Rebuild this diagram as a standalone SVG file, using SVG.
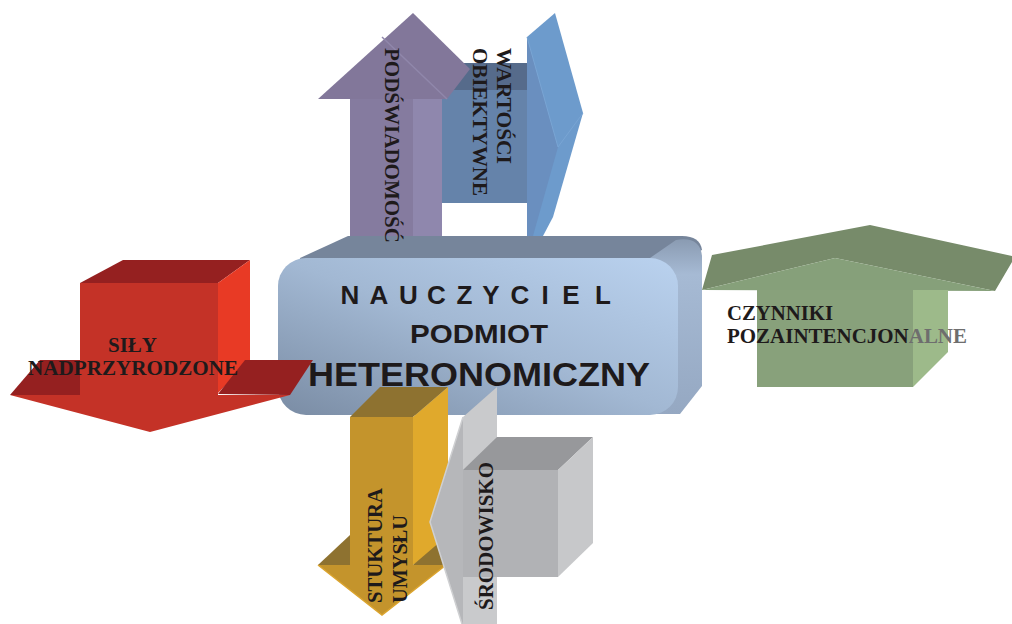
<svg xmlns="http://www.w3.org/2000/svg" width="1012" height="624" viewBox="0 0 1012 624">
<defs>
<style>
.lbl{font-family:"Liberation Serif","Times New Roman",serif;font-weight:bold;font-size:21px;fill:#1e1a1b}
.ctr{font-family:"Liberation Sans",Arial,sans-serif;font-weight:bold;fill:#1e1a1b;text-anchor:middle}
</style>
<linearGradient id="boxFront" x1="0" y1="1" x2="1" y2="0">
<stop offset="0" stop-color="#7a8ca4"/>
<stop offset="0.5" stop-color="#a2b8d3"/>
<stop offset="1" stop-color="#bad2ef"/>
</linearGradient>
<linearGradient id="boxSide" x1="0" y1="0" x2="0" y2="1">
<stop offset="0" stop-color="#8a9bb2"/>
<stop offset="0.2" stop-color="#a6bad4"/>
<stop offset="1" stop-color="#95a8c2"/>
</linearGradient>
</defs>
<rect width="1012" height="624" fill="#ffffff"/>
<g id="connectors"/>

<g id="node-wartosci">
<rect x="442" y="63" width="86" height="140" fill="#6583aa"/>
<rect x="442" y="63" width="86" height="27" fill="#566b8b"/>
<polygon points="527,37 555,13 583,113 553,217 543,236 527,236" fill="#6d9bcc"/>
<polygon points="527,37 558,147 533,236 527,236" fill="#6a8fbf"/>
<polyline points="527,37 558,147 583,113" fill="none" stroke="#79a5d4" stroke-width="1"/>
</g>

<g id="node-podswiadomosc">
<rect x="350" y="98" width="63" height="142" fill="#857b9f"/>
<rect x="413" y="98" width="29" height="142" fill="#8f87ad"/>
<polygon points="318,99 413,13 470,69 447,99" fill="#82779a"/>
<line x1="382" y1="37" x2="447" y2="99" stroke="#9087ab" stroke-width="1.5"/>
</g>

<g id="node-czynniki">
<polygon points="702,290 712,255 870,225 1012,256 1012,262 995,291 835,258" fill="#778b6a"/>
<polygon points="702,290 835,258 995,291" fill="#86a07a"/>
<rect x="757" y="290" width="156" height="97" fill="#88a17b"/>
<polygon points="913,290 948,290 948,352 913,387" fill="#9dba8a"/>
</g>

<g id="node-nauczyciel">
<path d="M300,258 L348,236 L682,236 Q700,236 702,250 L678,262 L300,262 Z" fill="#76859b"/>
<path d="M650,258 L676,240 Q700,236 702,256 L702,386 L680,414 L650,414 Z" fill="url(#boxSide)"/>
<rect x="278" y="258" width="400" height="157" rx="28" ry="28" fill="url(#boxFront)"/>
</g>

<g id="node-sily">
<polygon points="80,283 123,260 250,260 218,283" fill="#952020"/>
<polygon points="218,283 250,260 250,360 218,393" fill="#e83a25"/>
<polygon points="10,395 40,360 80,360 80,395" fill="#952020"/>
<polygon points="218,394 245,360 313,360 290,395" fill="#952020"/>
<polygon points="80,283 218,283 218,395 290,395 150,432 10,395 80,395" fill="#c43227"/>
</g>

<g id="node-struktura">
<polygon points="350,417 380,387 448,387 413,417" fill="#8e7230"/>
<polygon points="413,417 448,387 448,543 413,565" fill="#e0a92c"/>
<polygon points="318,565 350,535 350,565" fill="#8e7230"/>
<polygon points="413,565 448,535 478,535 446,565" fill="#8e7230"/>
<polygon points="350,417 413,417 413,565 446,565 382,615 318,565 350,565" fill="#c4942c"/>
<polyline points="318,565 382,615 446,565" fill="none" stroke="#dba42e" stroke-width="1.5"/>
</g>

<g id="node-srodowisko">
<polygon points="463,417 497,387 497,624 462,624" fill="#c9cacc"/>
<polygon points="463,417 430,522 462,624 463,624" fill="#b6b7ba"/>
<polyline points="463,417 430,522 462,624" fill="none" stroke="#cfd0d2" stroke-width="1.5"/>
<rect x="463" y="470" width="95" height="107" fill="#b1b2b5"/>
<polygon points="463,470 497,437 593,437 558,470" fill="#97989b"/>
<polygon points="558,470 593,437 593,543 558,577" fill="#c7c8ca"/>
</g>

<g id="labels">
<text class="ctr" font-size="26" x="350" y="304">N</text>
<text class="ctr" font-size="26" x="379" y="304">A</text>
<text class="ctr" font-size="26" x="408.5" y="304">U</text>
<text class="ctr" font-size="26" x="436.5" y="304">C</text>
<text class="ctr" font-size="26" x="464.5" y="304">Z</text>
<text class="ctr" font-size="26" x="491" y="304">Y</text>
<text class="ctr" font-size="26" x="520" y="304">C</text>
<text class="ctr" font-size="26" x="545" y="304">I</text>
<text class="ctr" font-size="26" x="571" y="304">E</text>
<text class="ctr" font-size="26" x="603" y="304">L</text>
<text class="ctr" font-size="26" x="479" y="343" textLength="138" lengthAdjust="spacingAndGlyphs">PODMIOT</text>
<text class="ctr" font-size="34" x="479" y="386" textLength="342" lengthAdjust="spacingAndGlyphs">HETERONOMICZNY</text>

<text class="lbl" x="132.5" y="352" text-anchor="middle">SIŁY</text>
<text class="lbl" x="133" y="375" text-anchor="middle" textLength="210" lengthAdjust="spacingAndGlyphs">NADPRZYRODZONE</text>

<text class="lbl" transform="translate(385,48) rotate(90)" textLength="195" lengthAdjust="spacingAndGlyphs">PODŚWIADOMOŚĆ</text>
<text class="lbl" transform="translate(497,48) rotate(90)" textLength="116" lengthAdjust="spacingAndGlyphs">WARTOŚCI</text>
<text class="lbl" transform="translate(473,48) rotate(90)" textLength="148" lengthAdjust="spacingAndGlyphs">OBIEKTYWNE</text>

<text class="lbl" x="727" y="320" textLength="106" lengthAdjust="spacingAndGlyphs">CZYNNIKI</text>
<text class="lbl" x="727" y="343" textLength="240" lengthAdjust="spacingAndGlyphs">POZAINTENCJON<tspan fill="#6e6e6e">ALNE</tspan></text>

<text class="lbl" transform="translate(382,603) rotate(-90)" textLength="115" lengthAdjust="spacingAndGlyphs">STUKTURA</text>
<text class="lbl" transform="translate(407,603) rotate(-90)" textLength="88" lengthAdjust="spacingAndGlyphs">UMYSŁU</text>
<text class="lbl" transform="translate(493,610) rotate(-90)" textLength="148" lengthAdjust="spacingAndGlyphs">ŚRODOWISKO</text>
</g>
</svg>
